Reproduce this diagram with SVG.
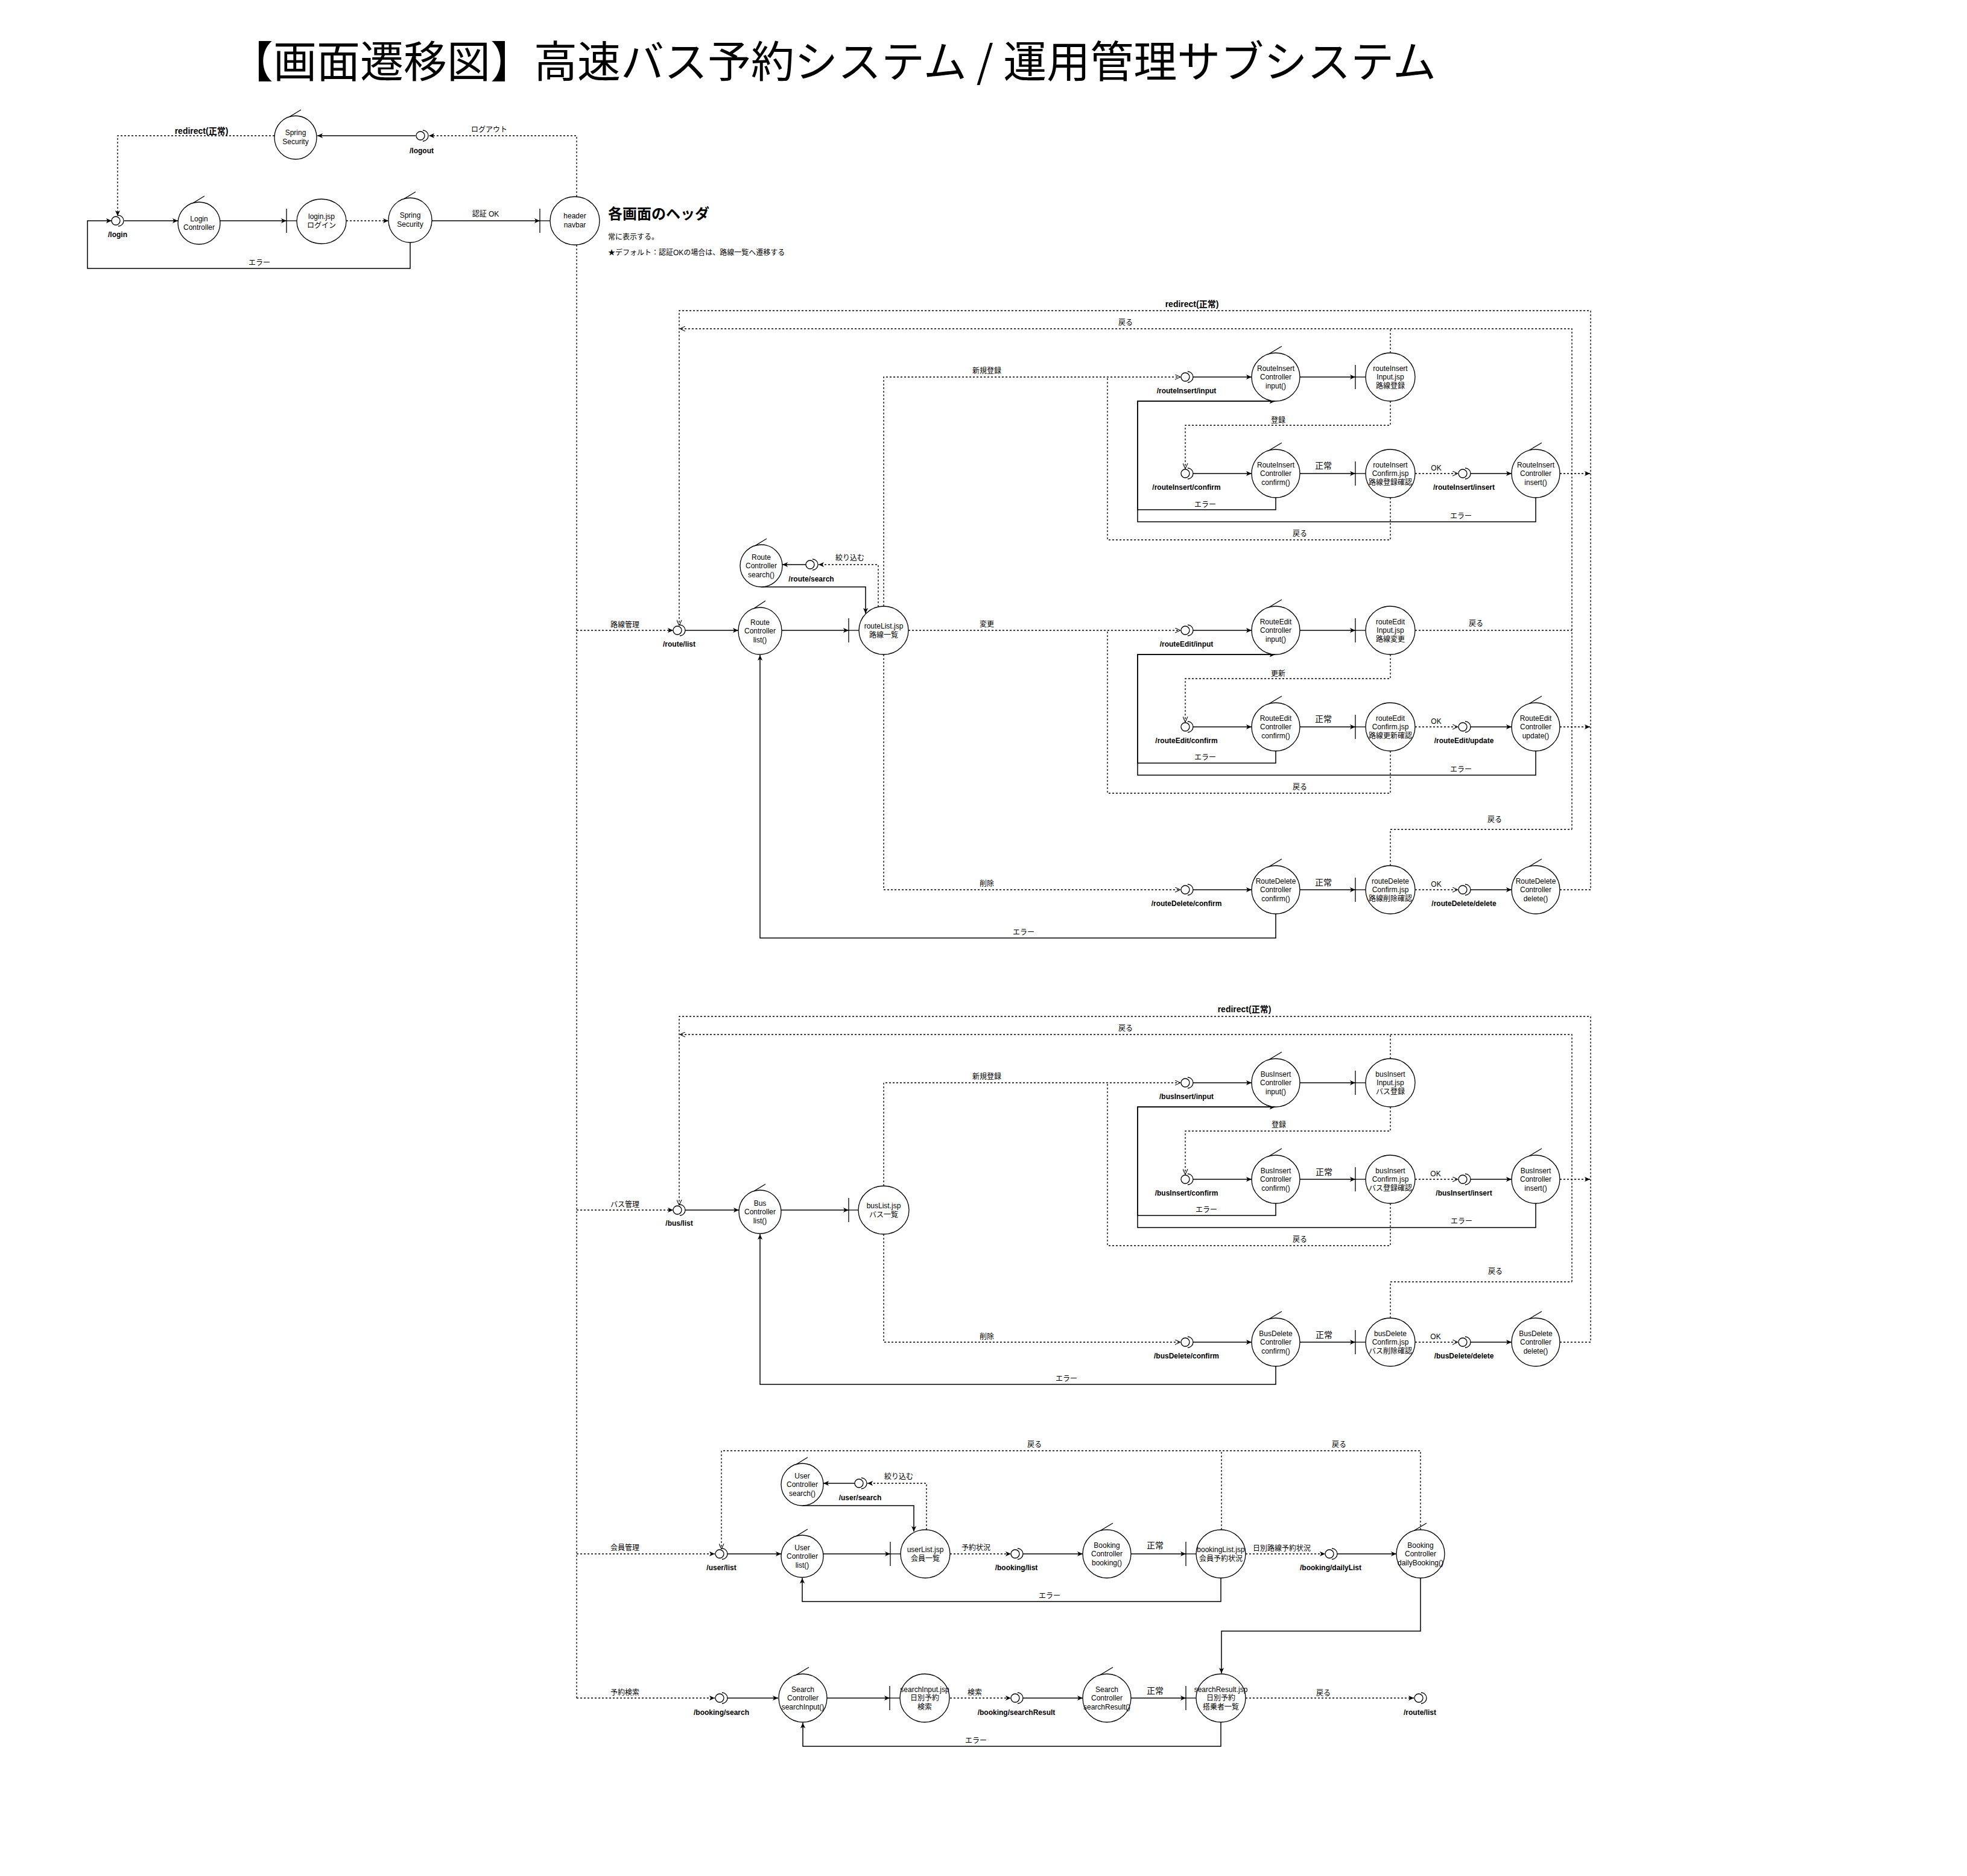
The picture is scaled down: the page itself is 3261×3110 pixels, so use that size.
<svg xmlns="http://www.w3.org/2000/svg" width="3261" height="3110" viewBox="0 0 3261 3110">
<style>
text{font-family:"Liberation Sans","Noto Sans CJK JP",sans-serif;font-size:12px;fill:#000}
.t{text-anchor:middle}
.b{font-weight:bold}
.k{font-size:14px}
.node ellipse,.node circle{fill:#fff;stroke:#000;stroke-width:1.3}
.node path,.node line{fill:none;stroke:#000;stroke-width:1.3}
.s{fill:none;stroke:#000;stroke-width:1.5}
.d{fill:none;stroke:#000;stroke-width:1.3;stroke-dasharray:3 3}
.af{marker-end:url(#af)}
.ao{marker-end:url(#ao)}
</style>
<defs>
<marker id="af" viewBox="0 0 10 10" refX="10" refY="5" markerWidth="9" markerHeight="9" markerUnits="userSpaceOnUse" orient="auto"><path d="M0,0.5 L10,5 L0,9.5 L2.5,5 z" fill="#000"/></marker>
<marker id="ao" viewBox="0 0 10 10" refX="10" refY="5" markerWidth="9" markerHeight="9" markerUnits="userSpaceOnUse" orient="auto"><path d="M0,0.5 L10,5 L0,9.5" fill="none" stroke="#000" stroke-width="1.2"/></marker>
</defs>
<rect width="3261" height="3110" fill="#fff"/>
<text x="1381" y="128" class="t" style="font-family:'Noto Sans CJK JP',sans-serif;font-size:72px">【画面遷移図】高速バス予約システム / 運用管理サブシステム</text>
<g id="notes">
<text x="1008" y="363" class="b" style="font-size:24px">各画面のヘッダ</text>
<text x="1008" y="397">常に表示する。</text>
<text x="1008" y="423">★デフォルト：認証OKの場合は、路線一覧へ遷移する</text>
</g>
<g id="connectors">
<!-- login -->
<path class="d af" d="M455,225 H195 V358"/>
<path class="d af" d="M956,326 V225 H711"/>
<path class="s af" d="M689,225 H526"/>
<path class="s af" d="M206,366 H295"/>
<path class="s af" d="M365,366 H475"/>
<path class="d af" d="M574,366 H644"/>
<path class="s af" d="M716,366 H895"/>
<path class="s af" d="M680,402 V445 H145 V366 H185"/>
<path class="d" d="M956,406 V2815"/>
<text x="334" y="222" class="t b k">redirect(正常)</text>
<text x="811" y="219" class="t">ログアウト</text>
<text x="805" y="359" class="t">認証 OK</text>
<text x="430" y="440" class="t">エラー</text>
<!-- route -->
<path class="d af" d="M956,1045 H1116"/>
<path class="s af" d="M1136,1045 H1224"/>
<path class="s af" d="M1296,1045 H1407"/>
<path class="d af" d="M1456,1006 V936 H1357"/>
<path class="s af" d="M1336,936 H1297"/>
<path class="s af" d="M1262,973 H1435 V1017"/>
<path class="d ao" d="M1465,1005 V625 H1957"/>
<path class="s af" d="M1978,625 H2075"/>
<path class="s af" d="M2155,625 H2247"/>
<path class="d ao" d="M2305,665 V705 H1965 V777"/>
<path class="s af" d="M1978,785 H2075"/>
<path class="s af" d="M2155,785 H2247"/>
<path class="d ao" d="M2346,785 H2417"/>
<path class="s af" d="M2438,785 H2506"/>
<path class="d af" d="M2586,785 H2636"/>
<path class="s af" d="M2115,825 V845 H1886 V665 H2114"/>
<path class="s af" d="M2546,825 V865 H1886 V665 H2114"/>
<path class="d" d="M2305,825 V895 H1836 V625"/>
<path class="d" d="M2305,585 V545"/>
<path class="d ao" d="M2606,1375 V545 H1127"/>
<path class="d ao" d="M2586,1475 H2637 V515 H1126 V1037"/>
<path class="d ao" d="M1506,1045 H1957"/>
<path class="s af" d="M1978,1045 H2075"/>
<path class="s af" d="M2155,1045 H2247"/>
<path class="d" d="M2346,1045 H2606"/>
<path class="d ao" d="M2305,1085 V1125 H1965 V1197"/>
<path class="s af" d="M1978,1205 H2075"/>
<path class="s af" d="M2155,1205 H2247"/>
<path class="d ao" d="M2346,1205 H2417"/>
<path class="s af" d="M2438,1205 H2506"/>
<path class="d af" d="M2586,1205 H2636"/>
<path class="s af" d="M2115,1245 V1265 H1886 V1085 H2114"/>
<path class="s af" d="M2546,1245 V1285 H1886 V1085 H2114"/>
<path class="d" d="M2305,1245 V1315 H1836 V1045"/>
<path class="d ao" d="M1465,1085 V1475 H1957"/>
<path class="s af" d="M1978,1475 H2075"/>
<path class="s af" d="M2155,1475 H2247"/>
<path class="d ao" d="M2346,1475 H2417"/>
<path class="s af" d="M2438,1475 H2506"/>
<path class="s af" d="M2115,1515 V1555 H1260 V1086"/>
<path class="d" d="M2305,1435 V1375 H2606"/>
<text x="1036" y="1040" class="t">路線管理</text>
<text x="1409" y="929" class="t">絞り込む</text>
<text x="1976" y="509" class="t b k">redirect(正常)</text>
<text x="1866" y="539" class="t">戻る</text>
<text x="1636" y="619" class="t">新規登録</text>
<text x="2119" y="701" class="t">登録</text>
<text x="2194" y="777" class="t k">正常</text>
<text x="2381" y="780" class="t">OK</text>
<text x="1998" y="841" class="t">エラー</text>
<text x="2422" y="860" class="t">エラー</text>
<text x="2155" y="889" class="t">戻る</text>
<text x="1636" y="1039" class="t">変更</text>
<text x="2447" y="1038" class="t">戻る</text>
<text x="2119" y="1121" class="t">更新</text>
<text x="2194" y="1197" class="t k">正常</text>
<text x="2381" y="1200" class="t">OK</text>
<text x="1998" y="1260" class="t">エラー</text>
<text x="2422" y="1280" class="t">エラー</text>
<text x="2155" y="1309" class="t">戻る</text>
<text x="2478" y="1363" class="t">戻る</text>
<text x="1636" y="1469" class="t">削除</text>
<text x="2194" y="1468" class="t k">正常</text>
<text x="2381" y="1470" class="t">OK</text>
<text x="1697" y="1550" class="t">エラー</text>
<!-- bus -->
<path class="d af" d="M956,2006 H1116"/>
<path class="s af" d="M1136,2006 H1225"/>
<path class="s af" d="M1295,2006 H1407"/>
<path class="d ao" d="M1465,1966 V1795 H1957"/>
<path class="s af" d="M1978,1795 H2075"/>
<path class="s af" d="M2155,1795 H2247"/>
<path class="d ao" d="M2305,1835 V1875 H1965 V1947"/>
<path class="s af" d="M1978,1955 H2075"/>
<path class="s af" d="M2155,1955 H2247"/>
<path class="d ao" d="M2346,1955 H2417"/>
<path class="s af" d="M2438,1955 H2506"/>
<path class="d af" d="M2586,1955 H2636"/>
<path class="s af" d="M2115,1995 V2015 H1886 V1835 H2114"/>
<path class="s af" d="M2546,1995 V2035 H1886 V1835 H2114"/>
<path class="d" d="M2305,1995 V2065 H1836 V1795"/>
<path class="d" d="M2305,1755 V1715"/>
<path class="d ao" d="M2606,2125 V1715 H1127"/>
<path class="d ao" d="M2586,2225 H2637 V1685 H1126 V1998"/>
<path class="d ao" d="M1465,2046 V2225 H1957"/>
<path class="s af" d="M1978,2225 H2075"/>
<path class="s af" d="M2155,2225 H2247"/>
<path class="d ao" d="M2346,2225 H2417"/>
<path class="s af" d="M2438,2225 H2506"/>
<path class="s af" d="M2115,2265 V2295 H1260 V2046"/>
<path class="d" d="M2305,2185 V2125 H2606"/>
<text x="1036" y="2001" class="t">バス管理</text>
<text x="2063" y="1678" class="t b k">redirect(正常)</text>
<text x="1866" y="1709" class="t">戻る</text>
<text x="1636" y="1789" class="t">新規登録</text>
<text x="2120" y="1869" class="t">登録</text>
<text x="2195" y="1948" class="t k">正常</text>
<text x="2380" y="1950" class="t">OK</text>
<text x="2000" y="2010" class="t">エラー</text>
<text x="2423" y="2029" class="t">エラー</text>
<text x="2155" y="2059" class="t">戻る</text>
<text x="2479" y="2112" class="t">戻る</text>
<text x="1636" y="2220" class="t">削除</text>
<text x="2195" y="2218" class="t k">正常</text>
<text x="2380" y="2220" class="t">OK</text>
<text x="1768" y="2290" class="t">エラー</text>
<!-- user -->
<path class="d af" d="M956,2576 H1185"/>
<path class="s af" d="M1206,2576 H1295"/>
<path class="s af" d="M1365,2576 H1476"/>
<path class="d af" d="M1536,2536 V2459 H1438"/>
<path class="s af" d="M1417,2459 H1365"/>
<path class="s af" d="M1330,2496 H1515 V2539"/>
<path class="d af" d="M1575,2576 H1676"/>
<path class="s af" d="M1696,2576 H1795"/>
<path class="s af" d="M1875,2576 H1966"/>
<path class="d af" d="M2065,2576 H2197"/>
<path class="s af" d="M2217,2576 H2315"/>
<path class="s af" d="M2024,2616 V2655 H1330 V2616"/>
<path class="d ao" d="M2355,2536 V2405 H1196 V2568"/>
<path class="d" d="M2025,2536 V2405"/>
<path class="s af" d="M2355,2616 V2704 H2025 V2774"/>
<text x="1036" y="2570" class="t">会員管理</text>
<text x="1490" y="2452" class="t">絞り込む</text>
<text x="1618" y="2570" class="t">予約状況</text>
<text x="1915" y="2567" class="t k">正常</text>
<text x="2125" y="2571" class="t">日別路線予約状況</text>
<text x="1740" y="2650" class="t">エラー</text>
<text x="1715" y="2399" class="t">戻る</text>
<text x="2220" y="2399" class="t">戻る</text>
<!-- search -->
<path class="d af" d="M956,2815 H1185"/>
<path class="s af" d="M1206,2815 H1290"/>
<path class="s af" d="M1371,2815 H1475"/>
<path class="d af" d="M1575,2815 H1676"/>
<path class="s af" d="M1696,2815 H1795"/>
<path class="s af" d="M1875,2815 H1966"/>
<path class="d af" d="M2065,2815 H2344"/>
<path class="s af" d="M2024,2855 V2895 H1331 V2856"/>
<text x="1036" y="2810" class="t">予約検索</text>
<text x="1616" y="2810" class="t">検索</text>
<text x="1915" y="2808" class="t k">正常</text>
<text x="2194" y="2811" class="t">戻る</text>
<text x="1618" y="2890" class="t">エラー</text>
</g>

<!-- LOGIN NODES -->
<g id="if_login" class="node"><circle cx="192" cy="366" r="7"/><path d="M196,357 A9,9 0 0,1 196,375"/><text x="195" y="393" class="t b">/login</text></g>
<g id="ctrl_login" class="node"><path d="M339,325 L321,336 L339,345"/><ellipse cx="330" cy="370" rx="35" ry="35"/><text x="330" y="367" class="t">Login</text><text x="330" y="381" class="t">Controller</text></g>
<g id="jsp_login" class="node"><line x1="475" y1="346" x2="475" y2="386"/><line x1="475" y1="366" x2="492" y2="366"/><ellipse cx="533" cy="367" rx="41" ry="37"/><text x="533" y="363" class="t">login.jsp</text><text x="533" y="378" class="t">ログイン</text></g>
<g id="ctrl_spring" class="node"><path d="M689,318 L671,329 L689,338"/><ellipse cx="680" cy="365" rx="36" ry="37"/><text x="680" y="361" class="t">Spring</text><text x="680" y="376" class="t">Security</text></g>
<g id="jsp_header" class="node"><line x1="895" y1="346" x2="895" y2="386"/><line x1="895" y1="366" x2="912" y2="366"/><ellipse cx="953" cy="366" rx="41" ry="40"/><text x="953" y="362" class="t">header</text><text x="953" y="377" class="t">navbar</text></g>
<g id="if_logout" class="node"><circle cx="697" cy="225" r="7"/><path d="M701,216 A9,9 0 0,1 701,234"/><text x="699" y="254" class="t b">/logout</text></g>
<g id="ctrl_spring_logout" class="node"><path d="M499,182 L481,193 L499,202"/><ellipse cx="490" cy="228" rx="35" ry="36"/><text x="490" y="224" class="t">Spring</text><text x="490" y="239" class="t">Security</text></g>

<!-- ROUTE NODES -->
<g id="if_route_list" class="node"><circle cx="1123" cy="1045" r="7"/><path d="M1127,1036 A9,9 0 0,1 1127,1054"/><text x="1126" y="1072" class="t b">/route/list</text></g>
<g id="ctrl_route_list" class="node"><path d="M1269,996 L1251,1008 L1269,1018"/><ellipse cx="1260" cy="1046" rx="36" ry="39"/><text x="1260" y="1035.5" class="t">Route</text><text x="1260" y="1050" class="t">Controller</text><text x="1260" y="1064.5" class="t">list()</text></g>
<g id="jsp_route_list" class="node"><line x1="1407" y1="1025" x2="1407" y2="1065"/><line x1="1407" y1="1045" x2="1424" y2="1045"/><ellipse cx="1465" cy="1045" rx="41" ry="40"/><text x="1465" y="1042" class="t">routeList.jsp</text><text x="1465" y="1056.5" class="t">路線一覧</text></g>
<g id="ctrl_route_search" class="node"><path d="M1271,893 L1253,904 L1271,913"/><ellipse cx="1262" cy="938" rx="35" ry="35"/><text x="1262" y="927.5" class="t">Route</text><text x="1262" y="942" class="t">Controller</text><text x="1262" y="956.5" class="t">search()</text></g>
<g id="if_route_search" class="node"><circle cx="1343" cy="936" r="7"/><path d="M1347,927 A9,9 0 0,1 1347,945"/><text x="1345" y="964" class="t b">/route/search</text></g>

<g id="if_ri_input" class="node"><circle cx="1965" cy="625" r="7"/><path d="M1969,616 A9,9 0 0,1 1969,634"/><text x="1967" y="652" class="t b">/routeInsert/input</text></g>
<g id="ctrl_ri_input" class="node"><path d="M2125,574 L2105,586 L2125,597"/><ellipse cx="2115" cy="625" rx="40" ry="40"/><text x="2115" y="614.5" class="t">RouteInsert</text><text x="2115" y="629" class="t">Controller</text><text x="2115" y="643.5" class="t">input()</text></g>
<g id="jsp_ri_input" class="node"><line x1="2247" y1="605" x2="2247" y2="645"/><line x1="2247" y1="625" x2="2264" y2="625"/><ellipse cx="2305" cy="625" rx="41" ry="40"/><text x="2305" y="614.5" class="t">routeInsert</text><text x="2305" y="629" class="t">Input.jsp</text><text x="2305" y="643.5" class="t">路線登録</text></g>
<g id="if_ri_confirm" class="node"><circle cx="1965" cy="785" r="7"/><path d="M1969,776 A9,9 0 0,1 1969,794"/><text x="1967" y="812" class="t b">/routeInsert/confirm</text></g>
<g id="ctrl_ri_confirm" class="node"><path d="M2125,734 L2105,746 L2125,757"/><ellipse cx="2115" cy="785" rx="40" ry="40"/><text x="2115" y="774.5" class="t">RouteInsert</text><text x="2115" y="789" class="t">Controller</text><text x="2115" y="803.5" class="t">confirm()</text></g>
<g id="jsp_ri_confirm" class="node"><line x1="2247" y1="765" x2="2247" y2="805"/><line x1="2247" y1="785" x2="2264" y2="785"/><ellipse cx="2305" cy="785" rx="41" ry="40"/><text x="2305" y="774.5" class="t">routeInsert</text><text x="2305" y="789" class="t">Confirm.jsp</text><text x="2305" y="803.5" class="t">路線登録確認</text></g>
<g id="if_ri_insert" class="node"><circle cx="2425" cy="785" r="7"/><path d="M2429,776 A9,9 0 0,1 2429,794"/><text x="2427" y="812" class="t b">/routeInsert/insert</text></g>
<g id="ctrl_ri_insert" class="node"><path d="M2556,734 L2536,746 L2556,757"/><ellipse cx="2546" cy="785" rx="40" ry="40"/><text x="2546" y="774.5" class="t">RouteInsert</text><text x="2546" y="789" class="t">Controller</text><text x="2546" y="803.5" class="t">insert()</text></g>

<g id="if_re_input" class="node"><circle cx="1965" cy="1045" r="7"/><path d="M1969,1036 A9,9 0 0,1 1969,1054"/><text x="1967" y="1072" class="t b">/routeEdit/input</text></g>
<g id="ctrl_re_input" class="node"><path d="M2125,994 L2105,1006 L2125,1017"/><ellipse cx="2115" cy="1045" rx="40" ry="40"/><text x="2115" y="1034.5" class="t">RouteEdit</text><text x="2115" y="1049" class="t">Controller</text><text x="2115" y="1063.5" class="t">input()</text></g>
<g id="jsp_re_input" class="node"><line x1="2247" y1="1025" x2="2247" y2="1065"/><line x1="2247" y1="1045" x2="2264" y2="1045"/><ellipse cx="2305" cy="1045" rx="41" ry="40"/><text x="2305" y="1034.5" class="t">routeEdit</text><text x="2305" y="1049" class="t">Input.jsp</text><text x="2305" y="1063.5" class="t">路線変更</text></g>
<g id="if_re_confirm" class="node"><circle cx="1965" cy="1205" r="7"/><path d="M1969,1196 A9,9 0 0,1 1969,1214"/><text x="1967" y="1232" class="t b">/routeEdit/confirm</text></g>
<g id="ctrl_re_confirm" class="node"><path d="M2125,1154 L2105,1166 L2125,1177"/><ellipse cx="2115" cy="1205" rx="40" ry="40"/><text x="2115" y="1194.5" class="t">RouteEdit</text><text x="2115" y="1209" class="t">Controller</text><text x="2115" y="1223.5" class="t">confirm()</text></g>
<g id="jsp_re_confirm" class="node"><line x1="2247" y1="1185" x2="2247" y2="1225"/><line x1="2247" y1="1205" x2="2264" y2="1205"/><ellipse cx="2305" cy="1205" rx="41" ry="40"/><text x="2305" y="1194.5" class="t">routeEdit</text><text x="2305" y="1209" class="t">Confirm.jsp</text><text x="2305" y="1223.5" class="t">路線更新確認</text></g>
<g id="if_re_update" class="node"><circle cx="2425" cy="1205" r="7"/><path d="M2429,1196 A9,9 0 0,1 2429,1214"/><text x="2427" y="1232" class="t b">/routeEdit/update</text></g>
<g id="ctrl_re_update" class="node"><path d="M2556,1154 L2536,1166 L2556,1177"/><ellipse cx="2546" cy="1205" rx="40" ry="40"/><text x="2546" y="1194.5" class="t">RouteEdit</text><text x="2546" y="1209" class="t">Controller</text><text x="2546" y="1223.5" class="t">update()</text></g>

<g id="if_rd_confirm" class="node"><circle cx="1965" cy="1475" r="7"/><path d="M1969,1466 A9,9 0 0,1 1969,1484"/><text x="1967" y="1502" class="t b">/routeDelete/confirm</text></g>
<g id="ctrl_rd_confirm" class="node"><path d="M2125,1424 L2105,1436 L2125,1447"/><ellipse cx="2115" cy="1475" rx="40" ry="40"/><text x="2115" y="1464.5" class="t">RouteDelete</text><text x="2115" y="1479" class="t">Controller</text><text x="2115" y="1493.5" class="t">confirm()</text></g>
<g id="jsp_rd_confirm" class="node"><line x1="2247" y1="1455" x2="2247" y2="1495"/><line x1="2247" y1="1475" x2="2264" y2="1475"/><ellipse cx="2305" cy="1475" rx="41" ry="40"/><text x="2305" y="1464.5" class="t">routeDelete</text><text x="2305" y="1479" class="t">Confirm.jsp</text><text x="2305" y="1493.5" class="t">路線削除確認</text></g>
<g id="if_rd_delete" class="node"><circle cx="2425" cy="1475" r="7"/><path d="M2429,1466 A9,9 0 0,1 2429,1484"/><text x="2427" y="1502" class="t b">/routeDelete/delete</text></g>
<g id="ctrl_rd_delete" class="node"><path d="M2556,1424 L2536,1436 L2556,1447"/><ellipse cx="2546" cy="1475" rx="40" ry="40"/><text x="2546" y="1464.5" class="t">RouteDelete</text><text x="2546" y="1479" class="t">Controller</text><text x="2546" y="1493.5" class="t">delete()</text></g>

<!-- BUS NODES -->
<g id="if_bus_list" class="node"><circle cx="1123" cy="2006" r="7"/><path d="M1127,1997 A9,9 0 0,1 1127,2015"/><text x="1126" y="2032" class="t b">/bus/list</text></g>
<g id="ctrl_bus_list" class="node"><path d="M1269,1963 L1251,1974 L1269,1983"/><ellipse cx="1260" cy="2009" rx="35" ry="36"/><text x="1260" y="1998.5" class="t">Bus</text><text x="1260" y="2013" class="t">Controller</text><text x="1260" y="2027.5" class="t">list()</text></g>
<g id="jsp_bus_list" class="node"><line x1="1407" y1="1986" x2="1407" y2="2026"/><line x1="1407" y1="2006" x2="1423" y2="2006"/><ellipse cx="1465" cy="2006" rx="42" ry="40"/><text x="1465" y="2003" class="t">busList.jsp</text><text x="1465" y="2017.5" class="t">バス一覧</text></g>

<g id="if_bi_input" class="node"><circle cx="1965" cy="1795" r="7"/><path d="M1969,1786 A9,9 0 0,1 1969,1804"/><text x="1967" y="1822" class="t b">/busInsert/input</text></g>
<g id="ctrl_bi_input" class="node"><path d="M2125,1744 L2105,1756 L2125,1767"/><ellipse cx="2115" cy="1795" rx="40" ry="40"/><text x="2115" y="1784.5" class="t">BusInsert</text><text x="2115" y="1799" class="t">Controller</text><text x="2115" y="1813.5" class="t">input()</text></g>
<g id="jsp_bi_input" class="node"><line x1="2247" y1="1775" x2="2247" y2="1815"/><line x1="2247" y1="1795" x2="2264" y2="1795"/><ellipse cx="2305" cy="1795" rx="41" ry="40"/><text x="2305" y="1784.5" class="t">busInsert</text><text x="2305" y="1799" class="t">Input.jsp</text><text x="2305" y="1813.5" class="t">バス登録</text></g>
<g id="if_bi_confirm" class="node"><circle cx="1965" cy="1955" r="7"/><path d="M1969,1946 A9,9 0 0,1 1969,1964"/><text x="1967" y="1982" class="t b">/busInsert/confirm</text></g>
<g id="ctrl_bi_confirm" class="node"><path d="M2125,1904 L2105,1916 L2125,1927"/><ellipse cx="2115" cy="1955" rx="40" ry="40"/><text x="2115" y="1944.5" class="t">BusInsert</text><text x="2115" y="1959" class="t">Controller</text><text x="2115" y="1973.5" class="t">confirm()</text></g>
<g id="jsp_bi_confirm" class="node"><line x1="2247" y1="1935" x2="2247" y2="1975"/><line x1="2247" y1="1955" x2="2264" y2="1955"/><ellipse cx="2305" cy="1955" rx="41" ry="40"/><text x="2305" y="1944.5" class="t">busInsert</text><text x="2305" y="1959" class="t">Confirm.jsp</text><text x="2305" y="1973.5" class="t">バス登録確認</text></g>
<g id="if_bi_insert" class="node"><circle cx="2425" cy="1955" r="7"/><path d="M2429,1946 A9,9 0 0,1 2429,1964"/><text x="2427" y="1982" class="t b">/busInsert/insert</text></g>
<g id="ctrl_bi_insert" class="node"><path d="M2556,1904 L2536,1916 L2556,1927"/><ellipse cx="2546" cy="1955" rx="40" ry="40"/><text x="2546" y="1944.5" class="t">BusInsert</text><text x="2546" y="1959" class="t">Controller</text><text x="2546" y="1973.5" class="t">insert()</text></g>

<g id="if_bd_confirm" class="node"><circle cx="1965" cy="2225" r="7"/><path d="M1969,2216 A9,9 0 0,1 1969,2234"/><text x="1967" y="2252" class="t b">/busDelete/confirm</text></g>
<g id="ctrl_bd_confirm" class="node"><path d="M2125,2174 L2105,2186 L2125,2197"/><ellipse cx="2115" cy="2225" rx="40" ry="40"/><text x="2115" y="2214.5" class="t">BusDelete</text><text x="2115" y="2229" class="t">Controller</text><text x="2115" y="2243.5" class="t">confirm()</text></g>
<g id="jsp_bd_confirm" class="node"><line x1="2247" y1="2205" x2="2247" y2="2245"/><line x1="2247" y1="2225" x2="2264" y2="2225"/><ellipse cx="2305" cy="2225" rx="41" ry="40"/><text x="2305" y="2214.5" class="t">busDelete</text><text x="2305" y="2229" class="t">Confirm.jsp</text><text x="2305" y="2243.5" class="t">バス削除確認</text></g>
<g id="if_bd_delete" class="node"><circle cx="2425" cy="2225" r="7"/><path d="M2429,2216 A9,9 0 0,1 2429,2234"/><text x="2427" y="2252" class="t b">/busDelete/delete</text></g>
<g id="ctrl_bd_delete" class="node"><path d="M2556,2174 L2536,2186 L2556,2197"/><ellipse cx="2546" cy="2225" rx="40" ry="40"/><text x="2546" y="2214.5" class="t">BusDelete</text><text x="2546" y="2229" class="t">Controller</text><text x="2546" y="2243.5" class="t">delete()</text></g>

<!-- USER NODES -->
<g id="if_user_list" class="node"><circle cx="1193" cy="2576" r="7"/><path d="M1197,2567 A9,9 0 0,1 1197,2585"/><text x="1196" y="2603" class="t b">/user/list</text></g>
<g id="ctrl_user_list" class="node"><path d="M1339,2535 L1321,2546 L1339,2555"/><ellipse cx="1330" cy="2580" rx="35" ry="35"/><text x="1330" y="2569.5" class="t">User</text><text x="1330" y="2584" class="t">Controller</text><text x="1330" y="2598.5" class="t">list()</text></g>
<g id="ctrl_user_search" class="node"><path d="M1339,2416 L1321,2427 L1339,2436"/><ellipse cx="1330" cy="2461" rx="35" ry="35"/><text x="1330" y="2450.5" class="t">User</text><text x="1330" y="2465" class="t">Controller</text><text x="1330" y="2479.5" class="t">search()</text></g>
<g id="if_user_search" class="node"><circle cx="1424" cy="2459" r="7"/><path d="M1428,2450 A9,9 0 0,1 1428,2468"/><text x="1426" y="2487" class="t b">/user/search</text></g>
<g id="jsp_user_list" class="node"><line x1="1476" y1="2556" x2="1476" y2="2596"/><line x1="1476" y1="2576" x2="1493" y2="2576"/><ellipse cx="1534" cy="2576" rx="41" ry="40"/><text x="1534" y="2573" class="t">userList.jsp</text><text x="1534" y="2587.5" class="t">会員一覧</text></g>
<g id="if_booking_list" class="node"><circle cx="1683" cy="2576" r="7"/><path d="M1687,2567 A9,9 0 0,1 1687,2585"/><text x="1685" y="2603" class="t b">/booking/list</text></g>
<g id="ctrl_booking" class="node"><path d="M1845,2525 L1825,2537 L1845,2548"/><ellipse cx="1835" cy="2576" rx="40" ry="40"/><text x="1835" y="2565.5" class="t">Booking</text><text x="1835" y="2580" class="t">Controller</text><text x="1835" y="2594.5" class="t">booking()</text></g>
<g id="jsp_booking_list" class="node"><line x1="1966" y1="2556" x2="1966" y2="2596"/><line x1="1966" y1="2576" x2="1983" y2="2576"/><ellipse cx="2024" cy="2576" rx="41" ry="40"/><text x="2024" y="2573" class="t">bookingList.jsp</text><text x="2024" y="2587.5" class="t">会員予約状況</text></g>
<g id="if_daily" class="node"><circle cx="2204" cy="2576" r="7"/><path d="M2208,2567 A9,9 0 0,1 2208,2585"/><text x="2206" y="2603" class="t b">/booking/dailyList</text></g>
<g id="ctrl_daily" class="node"><path d="M2365,2525 L2345,2537 L2365,2548"/><ellipse cx="2355" cy="2576" rx="40" ry="40"/><text x="2355" y="2565.5" class="t">Booking</text><text x="2355" y="2580" class="t">Controller</text><text x="2355" y="2594.5" class="t">dailyBooking()</text></g>

<!-- SEARCH NODES -->
<g id="if_booking_search" class="node"><circle cx="1193" cy="2815" r="7"/><path d="M1197,2806 A9,9 0 0,1 1197,2824"/><text x="1196" y="2843" class="t b">/booking/search</text></g>
<g id="ctrl_search_input" class="node"><path d="M1341,2764 L1321,2776 L1341,2787"/><ellipse cx="1331" cy="2815" rx="40" ry="40"/><text x="1331" y="2804.5" class="t">Search</text><text x="1331" y="2819" class="t">Controller</text><text x="1331" y="2833.5" class="t">searchInput()</text></g>
<g id="jsp_search_input" class="node"><line x1="1475" y1="2795" x2="1475" y2="2835"/><line x1="1475" y1="2815" x2="1492" y2="2815"/><ellipse cx="1533" cy="2815" rx="41" ry="40"/><text x="1533" y="2804.5" class="t">searchInput.jsp</text><text x="1533" y="2819" class="t">日別予約</text><text x="1533" y="2833.5" class="t">検索</text></g>
<g id="if_search_result" class="node"><circle cx="1683" cy="2815" r="7"/><path d="M1687,2806 A9,9 0 0,1 1687,2824"/><text x="1685" y="2843" class="t b">/booking/searchResult</text></g>
<g id="ctrl_search_result" class="node"><path d="M1845,2764 L1825,2776 L1845,2787"/><ellipse cx="1835" cy="2815" rx="40" ry="40"/><text x="1835" y="2804.5" class="t">Search</text><text x="1835" y="2819" class="t">Controller</text><text x="1835" y="2833.5" class="t">searchResult()</text></g>
<g id="jsp_search_result" class="node"><line x1="1966" y1="2795" x2="1966" y2="2835"/><line x1="1966" y1="2815" x2="1983" y2="2815"/><ellipse cx="2024" cy="2815" rx="41" ry="40"/><text x="2024" y="2804.5" class="t">searchResult.jsp</text><text x="2024" y="2819" class="t">日別予約</text><text x="2024" y="2833.5" class="t">搭乗者一覧</text></g>
<g id="if_route_list_back" class="node"><circle cx="2352" cy="2815" r="7"/><path d="M2356,2806 A9,9 0 0,1 2356,2824"/><text x="2354" y="2843" class="t b">/route/list</text></g>
</svg>
